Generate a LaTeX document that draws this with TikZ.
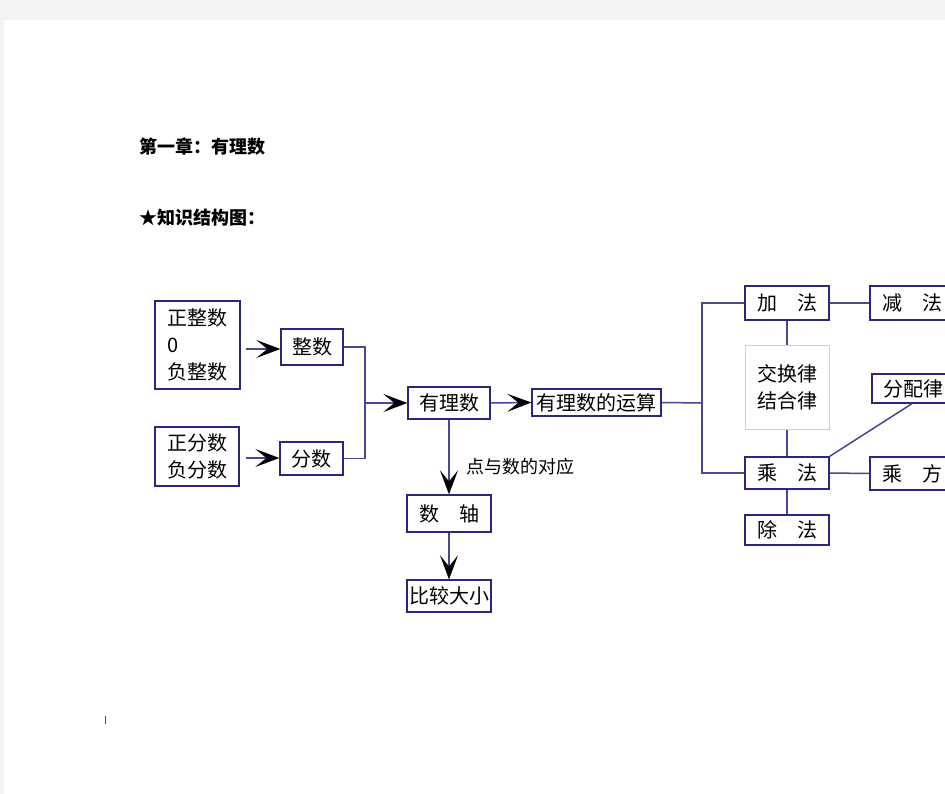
\documentclass[tikz,border=0pt]{standalone}
\usepackage{fontspec}
\setmainfont{Noto Sans CJK SC}
\usetikzlibrary{arrows.meta}
\definecolor{boxc}{RGB}{40,40,130}
\definecolor{linec}{RGB}{70,70,155}
\definecolor{palec}{RGB}{205,205,228}
\definecolor{bgc}{RGB}{244,244,244}
\begin{document}
\begin{tikzpicture}[x=1pt,y=-1pt,
  box/.style={draw=boxc, line width=1.3pt, fill=white, inner sep=0pt, align=left,
    font=\fontsize{20}{27}\selectfont},
  conn/.style={draw=linec, line width=1.5pt},
  arr/.style={conn, -{Stealth[length=24pt,width=18pt,inset=11pt,color=black]}},
  lbl/.style={inner sep=0pt, anchor=west}]
\useasboundingbox (0,0) rectangle (945,794);
\fill[bgc] (0,0) rectangle (945,794);
\fill[white] (4,20) rectangle (945,794);
\clip (0,0) rectangle (945,794);

\node[lbl, font=\bfseries\fontsize{18}{20}\selectfont] (title) at (139,147) {第一章：有理数};
\node[lbl, font=\bfseries\fontsize{18}{20}\selectfont] (sub) at (139,218) {★知识结构图：};

% left boxes
\node[box, minimum width=85pt, minimum height=88pt] (zzs) at (197.5,345) {正整数\\0\\负整数};
\node[box, minimum width=84pt, minimum height=59pt] (zfs) at (197,456.5) {正分数\\负分数};
\node[box, minimum width=62pt, minimum height=36pt] (zs) at (312,347) {整数};
\node[box, minimum width=63pt, minimum height=33pt] (fs) at (311.5,458.5) {分数};
\node[box, minimum width=82pt, minimum height=32pt] (yl) at (449,403) {有理数};
\node[box, minimum width=129pt, minimum height=27pt] (ys) at (596.5,402.5) {有理数的运算};
\node[box, minimum width=84pt, minimum height=37pt] (sz) at (449,513.5) {数　轴};
\node[box, minimum width=84pt, minimum height=32pt] (bj) at (449,596) {比较大小};

% right boxes
\node[box, minimum width=84pt, minimum height=34pt] (jf) at (787,303) {加　法};
\node[box, minimum width=84pt, minimum height=34pt] (jian) at (912,303) {减　法};
\node[box, draw=palec, line width=1pt, minimum width=84pt, minimum height=84pt] (jh) at (787,387) {交换律\\结合律};
\node[box, minimum width=83pt, minimum height=29pt] (fp) at (913.5,388.5) {分配律};
\node[box, minimum width=84pt, minimum height=32pt] (cf) at (787,473) {乘　法};
\node[box, minimum width=84pt, minimum height=33pt] (cfang) at (912,473.5) {乘　方};
\node[box, minimum width=84pt, minimum height=30pt] (chu) at (787,530) {除　法};

% left connectors
\coordinate (a1) at (246,349);
\coordinate (a2) at (246,458);
\draw[arr] (a1) -- (a1 -| zs.west);
\draw[arr] (a2) -- (a2 -| fs.west);
\coordinate (br) at (365,403);
\draw[conn] (zs.east) -- (zs.east -| br) -- (fs.east -| br) -- (fs.east);
\draw[arr] (br) -- (yl.west);
\draw[arr] (yl.east) -- (ys.west);
\draw[arr] (yl.south) -- (sz.north);
\draw[arr] (sz.south) -- (bj.north);
\node[lbl, font=\fontsize{18}{20}\selectfont] (dy) at (466,467) {点与数的对应};

% right connectors
\coordinate (rv) at (702,403);
\draw[conn] (ys.east) -- (rv);
\draw[conn] (jf.west) -- (jf.west -| rv) -- (cf.west -| rv) -- (cf.west);
\draw[conn] (jf.east) -- (jian.west);
\draw[conn] (jf.south) -- (jh.north);
\draw[conn] (jh.south) -- (cf.north);
\draw[conn] (cf.north east) -- (fp.south west -| 912,0);
\draw[conn] (cf.east) -- (cfang.west);
\draw[conn] (cf.south) -- (chu.north);

% small mark
\coordinate (m1) at (105.5,716);
\coordinate (m2) at (105.5,724);
\draw[draw=linec, line width=0.8pt] (m1) -- (m2);
\end{tikzpicture}
\end{document}
